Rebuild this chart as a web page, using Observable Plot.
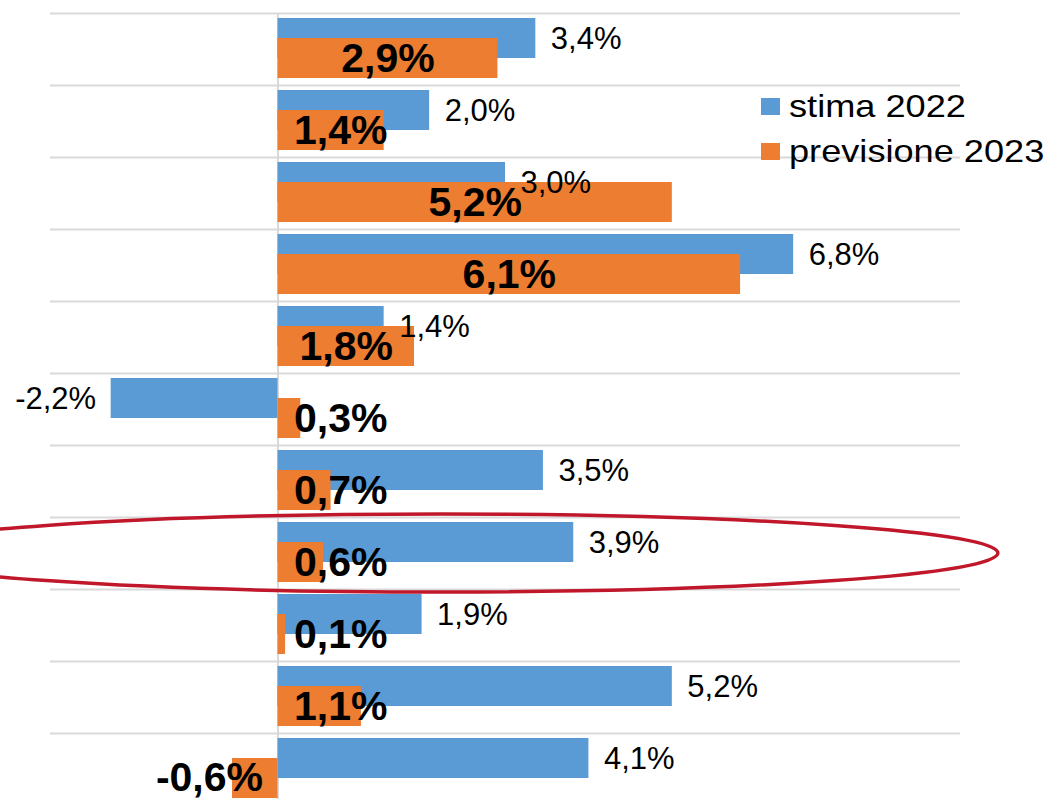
<!DOCTYPE html>
<html>
<head>
<meta charset="utf-8">
<script src="https://cdn.jsdelivr.net/npm/d3@7"></script>
<script src="https://cdn.jsdelivr.net/npm/@observablehq/plot@0.6"></script>
<style>
  html, body { margin: 0; padding: 0; background: #ffffff; }
  #wrap { position: relative; width: 1054px; height: 799px; overflow: hidden; font-family: "Liberation Sans", Arial, sans-serif; }
  #legend { position: absolute; left: 761px; top: 84px; font-size: 32px; line-height: 45px; color: #000; }
  #legend .item { display: flex; align-items: center; height: 45px; white-space: nowrap; }
  #legend .sw { width: 19px; height: 17px; margin-right: 9px; flex: none; }
  #legend .lab { display: inline-block; transform: scaleX(1.13); transform-origin: left center; }
</style>
</head>
<body>
<div id="wrap"></div>
<script>
// ---- data ----
const categories = ["1", "2", "3", "4", "5", "6", "7", "8", "9", "10", "11"];
const seriesNames = ["stima 2022", "previsione 2023"];
const stima2022 = [3.4, 2.0, 3.0, 6.8, 1.4, -2.2, 3.5, 3.9, 1.9, 5.2, 4.1];
const previsione2023 = [2.9, 1.4, 5.2, 6.1, 1.8, 0.3, 0.7, 0.6, 0.1, 1.1, -0.6];
const highlighted = "8";

// ---- styles ----
const BLUE = "#5B9BD5";
const ORANGE = "#ED7D31";
const GRID = "#d9d9d9";
const FONT = "'Liberation Sans', Arial, sans-serif";

const rows = categories.map((c, i) => ({cat: c, stima: stima2022[i], prev: previsione2023[i]}));
const fmt = v => v.toFixed(1).replace(".", ",") + "%";
const bandHalf = 36;

const plot = Plot.plot({
  width: 1054,
  height: 799,
  marginLeft: 50,
  marginRight: 94,
  marginTop: 13,
  marginBottom: -6,
  style: {fontFamily: FONT, background: "transparent", overflow: "visible"},
  x: {domain: [-3, 9], axis: null},
  y: {domain: categories, padding: 0, axis: null},
  marks: [
    Plot.ruleY(categories, {y: d => d, dy: -bandHalf, stroke: GRID, strokeWidth: 2}),
    Plot.ruleX([0], {stroke: GRID, strokeWidth: 2}),
    Plot.barX(rows, {y: "cat", x1: 0, x2: "stima", fill: BLUE, insetTop: 5, insetBottom: 27}),
    Plot.barX(rows, {y: "cat", x1: 0, x2: "prev", fill: ORANGE, insetTop: 25, insetBottom: 7}),
    // blue labels
    Plot.text(rows.filter(d => d.stima >= 0), {y: "cat", x: "stima", text: d => fmt(d.stima), textAnchor: "start", dx: 15, dy: -10, fontSize: 31, fill: "#000"}),
    Plot.text(rows.filter(d => d.stima < 0), {y: "cat", x: "stima", text: d => fmt(d.stima), textAnchor: "end", dx: -15, dy: -10, fontSize: 31, fill: "#000"}),
    // orange labels
    Plot.text(rows.filter(d => d.prev >= 1.6), {y: "cat", x: d => d.prev / 2, text: d => fmt(d.prev), textAnchor: "middle", dy: 9, fontSize: 41, fontWeight: "bold", fill: "#000"}),
    Plot.text(rows.filter(d => d.prev >= 0 && d.prev < 1.6), {y: "cat", x: 0, text: d => fmt(d.prev), textAnchor: "start", dx: 16, dy: 9, fontSize: 41, fontWeight: "bold", fill: "#000"}),
    Plot.text(rows.filter(d => d.prev < 0), {y: "cat", x: 0, text: d => fmt(d.prev), textAnchor: "end", dx: -15, dy: 8, fontSize: 41, fontWeight: "bold", fill: "#000"})
  ]
});

const wrap = document.getElementById("wrap");
wrap.appendChild(plot);

// highlight ellipse around one category
const xs = plot.scale("x");
const ys = plot.scale("y");
const cx = xs.apply(2.15);
const rx = xs.apply(2.15 + 7.35) - cx;
const cy = ys.apply(highlighted) + (ys.bandwidth || 0) / 2;
d3.select(plot).append("ellipse")
  .attr("cx", cx).attr("cy", cy).attr("rx", rx).attr("ry", 39)
  .attr("fill", "none").attr("stroke", "#C0172B").attr("stroke-width", 3.5);

// legend
const legend = document.createElement("div");
legend.id = "legend";
[BLUE, ORANGE].forEach((col, i) => {
  const item = document.createElement("div");
  item.className = "item";
  const sw = document.createElement("span");
  sw.className = "sw";
  sw.style.background = col;
  const lab = document.createElement("span");
  lab.className = "lab";
  lab.textContent = seriesNames[i];
  item.appendChild(sw);
  item.appendChild(lab);
  legend.appendChild(item);
});
wrap.appendChild(legend);
</script>
</body>
</html>
